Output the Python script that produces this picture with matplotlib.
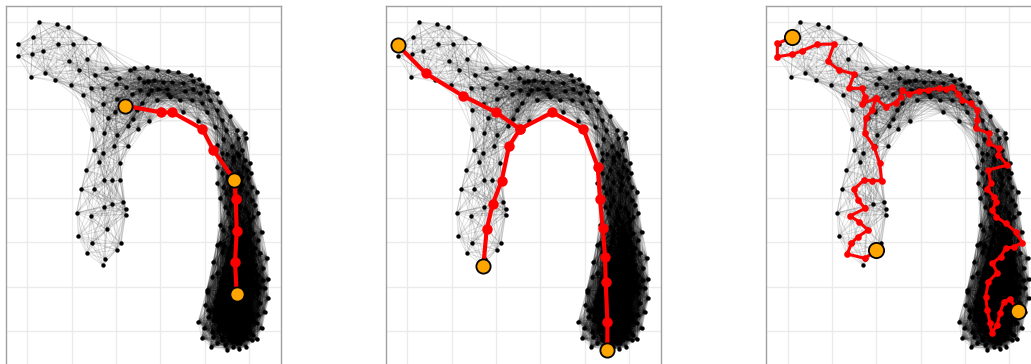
import numpy as np
import matplotlib
matplotlib.use("Agg")
import matplotlib.pyplot as plt
from matplotlib.collections import LineCollection

# node layout (same graph in all three panels)
node_x = [
    118, 172, 203, 98, 255, 55, 173, 220, 298, 54, 97, 128, 207, 262, 237, 135, 92, 166, 213, 285,
    317, 248, 272, 308, 276, 308, 323,
    390, 403, 440, 470, 505, 357, 417, 445, 433, 463, 490, 517, 378, 347, 420, 453, 475, 500, 445,
    397, 505, 350, 470, 425, 345, 410, 385, 413, 448,
    535, 572, 598, 548, 580, 605, 625, 555, 580, 600, 620, 650, 510, 540, 575, 605, 630, 660, 548,
    620, 650, 690, 595, 665, 710, 735, 678, 645, 670, 715, 738, 650, 695, 725, 665, 710, 750, 650,
    730, 742,
    398, 275, 313, 350, 343, 383, 282, 308, 298, 360, 258, 313, 337, 360, 244, 282, 370, 337, 313,
    377, 377, 230, 272, 320, 235, 275, 363, 350, 260, 315, 308,
    680, 718, 752, 745, 652, 772, 678, 740, 660, 755, 685, 775, 745, 660, 730, 785, 668, 650, 775,
    750, 670, 640, 802, 790, 635, 805, 620, 805, 615, 795, 595, 612, 785, 605, 665, 755, 632, 680,
    700, 718, 738, 770, 670, 775, 660, 780, 645, 640, 780, 655, 635, 725, 690, 620, 660, 685, 725,
    700, 690, 715, 700, 725, 680, 700, 720, 715, 750, 760, 700, 735, 690, 765, 690, 710, 730, 760,
    680, 700, 725, 750, 690, 720, 750, 740, 765, 660, 690, 720, 750, 700, 670, 730, 760, 680, 710,
    740, 760, 700, 730, 670, 750, 710, 650, 625, 700, 740, 650, 720,
    675, 710, 735, 760, 690, 720, 750, 705, 665, 695, 720, 745, 765, 685, 710, 735, 755, 780,
    650, 675, 700, 735, 760, 790, 665, 705, 735, 765, 650, 685, 715, 745, 775, 795,
    625, 655, 690, 720, 750, 775, 640, 665, 695, 725, 755, 685, 715, 745, 770, 640,
    675, 690, 730, 760, 710, 665, 700, 735, 665, 725, 690, 720, 755, 670,
]
node_y = [
    66, 72, 82, 112, 113, 133, 132, 132, 132, 168, 162, 153, 184, 178, 209, 218, 230, 240, 255, 224,
    204, 285, 265, 265, 330, 312, 355,
    210, 205, 200, 210, 213, 235, 235, 242, 247, 240, 245, 247, 262, 252, 270, 270, 268, 268, 282,
    283, 283, 297, 300, 310, 335, 330, 377, 387, 363,
    216, 225, 236, 248, 242, 254, 260, 274, 268, 280, 274, 280, 290, 300, 300, 308, 300, 305, 335,
    335, 330, 348, 362, 360, 390, 398, 390, 382, 418, 415, 414, 435, 438, 450, 460, 460, 490, 500,
    500, 510,
    357, 388, 398, 405, 438, 438, 450, 460, 485, 488, 510, 540, 540, 540, 566, 566, 606, 612, 622,
    628, 644, 638, 648, 688, 708, 730, 730, 750, 760, 776, 795,
    462, 465, 518, 535, 550, 575, 578, 580, 595, 600, 638, 640, 640, 675, 675, 695, 690, 735, 720,
    730, 735, 785, 775, 805, 830, 838, 875, 895, 915, 935, 965, 985, 985, 1015, 1020, 1020, 1040, 1050,
    1042, 1046, 1040, 1018, 805, 825, 845, 860, 905, 930, 910, 990, 995, 1000, 1020, 870, 730, 990, 710,
    480, 510, 520, 545, 555, 530, 600, 620, 650, 660, 700, 700, 700, 615, 615, 740, 760, 750, 760,
    770, 800, 790, 800, 830, 830, 840, 780, 795, 870, 860, 860, 870, 900, 905, 905, 880, 940, 940,
    940, 960, 970, 970, 965, 995, 1010, 960, 950, 1025, 1015, 1030, 1030,
    620, 635, 625, 650, 680, 690, 685, 670, 755, 720, 735, 715, 745, 790, 780, 765, 780, 760,
    820, 815, 815, 810, 815, 840, 855, 845, 850, 850, 885, 885, 880, 890, 880, 865,
    930, 920, 915, 920, 920, 945, 960, 945, 955, 950, 945, 985, 990, 975, 970, 1010,
    1035, 1005, 1020, 1005, 1030, 480, 470, 480, 520, 530, 570, 570, 560, 560,
]

# panel 1: shortest path between three cells
path1_x = [375, 483, 517, 607, 640, 703, 707, 710, 705, 710]
path1_y = [317, 337, 337, 387, 450, 540, 597, 693, 787, 882]
ends1_x = [375, 703, 710]
ends1_y = [317, 540, 882]

# panel 2: tree through three end points
path2_x = [53, 137, 248, 348, 420, 517, 610, 653, 660, 668, 675, 677, 682, 682]
path2_y = [135, 220, 287, 337, 387, 337, 387, 500, 598, 685, 770, 845, 965, 1050]
branch2_x = [420, 387, 365, 338, 320, 310]
branch2_y = [387, 438, 542, 612, 688, 797]
ends2_x = [53, 310, 682]
ends2_y = [135, 797, 1050]

# panel 3: walk over the graph
path3_x = [96, 51, 51, 96, 126, 171, 221, 203, 236, 281, 266, 304, 314, 304, 346, 376, 406, 421, 424,
           446, 476, 504, 536, 556, 576, 594, 606, 631, 651, 651, 646, 686, 686, 716, 714, 741, 684,
           691, 681, 701, 708, 696, 708, 736, 766, 786, 761, 736, 721, 696, 711, 684, 676, 681, 689,
           694, 711, 718, 731, 748, 774]
path3_y = [112, 130, 170, 163, 152, 133, 132, 184, 210, 222, 265, 265, 290, 312, 295, 320, 308, 290, 270,
           283, 272, 270, 264, 268, 260, 282, 300, 310, 330, 360, 385, 400, 430, 445, 465, 495, 510,
           550, 568, 590, 605, 630, 650, 670, 695, 728, 740, 745, 770, 790, 818, 845, 890, 930, 970,
           998, 975, 940, 905, 897, 933]
branch3_x = [346, 336, 316, 313, 341, 358, 364, 336, 311, 281, 293, 314, 269, 296, 323, 293, 273, 261,
             314, 348]
branch3_y = [295, 330, 355, 400, 440, 490, 542, 542, 540, 568, 600, 625, 648, 665, 690, 710, 730, 762,
             775, 750]
ends3_x = [96, 348, 774]
ends3_y = [112, 750, 933]

grid_x = [82, 215, 348, 481, 614, 747]
grid_y = [65, 197, 328, 462, 595, 727, 860, 993, 1126]

nx = np.array(node_x, dtype=float)
ny = np.array(node_y, dtype=float)
pts = np.column_stack([nx, ny])
d = np.sqrt(((pts[:, None, :] - pts[None, :, :]) ** 2).sum(-1))
ii, jj = np.where(np.triu(d < 160, 1))
segs = [[pts[i], pts[j]] for i, j in zip(ii, jj)]

W, H = 1031, 364
fig = plt.figure(figsize=(W / 100, H / 100), dpi=100)

panel_left = [5.7, 385.7, 766.0]
panel_w = (843 - 17) / 3
panel_top = 5.7
panel_bottom = 390


def draw_panel(ax, lines, ends, big):
    ax.set_xlim(17, 843)
    ax.set_ylim(3 * panel_bottom - 3 * panel_top + 17, 17)
    ax.set_xticks(grid_x)
    ax.set_yticks(grid_y)
    ax.tick_params(length=0, labelbottom=False, labelleft=False)
    ax.grid(True, color="#ebebeb", linewidth=1.0)
    ax.set_axisbelow(True)
    for s in ax.spines.values():
        s.set_color("#a0a0a0")
        s.set_linewidth(1.0)
    ax.add_collection(LineCollection(segs, colors="black", linewidths=0.7, alpha=0.12, zorder=1))
    ax.scatter(nx, ny, s=10, color="black", linewidths=0, zorder=2)
    for lx, ly in lines:
        if big:
            ax.plot(lx, ly, color="red", linewidth=3.0, marker="o", markersize=7.5,
                    markeredgewidth=0, zorder=3, solid_capstyle="round")
        else:
            ax.plot(lx, ly, color="red", linewidth=2.2, marker="o", markersize=4.8,
                    markeredgewidth=0, zorder=3, solid_capstyle="round")
    ex, ey = ends
    ax.scatter(ex, ey, s=105 if big else 120, color="#ffa500", edgecolors="black",
               linewidths=1.3, zorder=4)


panels = [
    ([(path1_x, path1_y)], (ends1_x, ends1_y), True),
    ([(path2_x, path2_y), (branch2_x, branch2_y)], (ends2_x, ends2_y), True),
    ([(path3_x, path3_y), (branch3_x, branch3_y)], (ends3_x, ends3_y), False),
]
for left, (lines, ends, big) in zip(panel_left, panels):
    ax = fig.add_axes([left / W, (H - panel_bottom) / H, panel_w / W,
                       (panel_bottom - panel_top) / H])
    draw_panel(ax, lines, ends, big)

fig.savefig("out.png", dpi=100)
